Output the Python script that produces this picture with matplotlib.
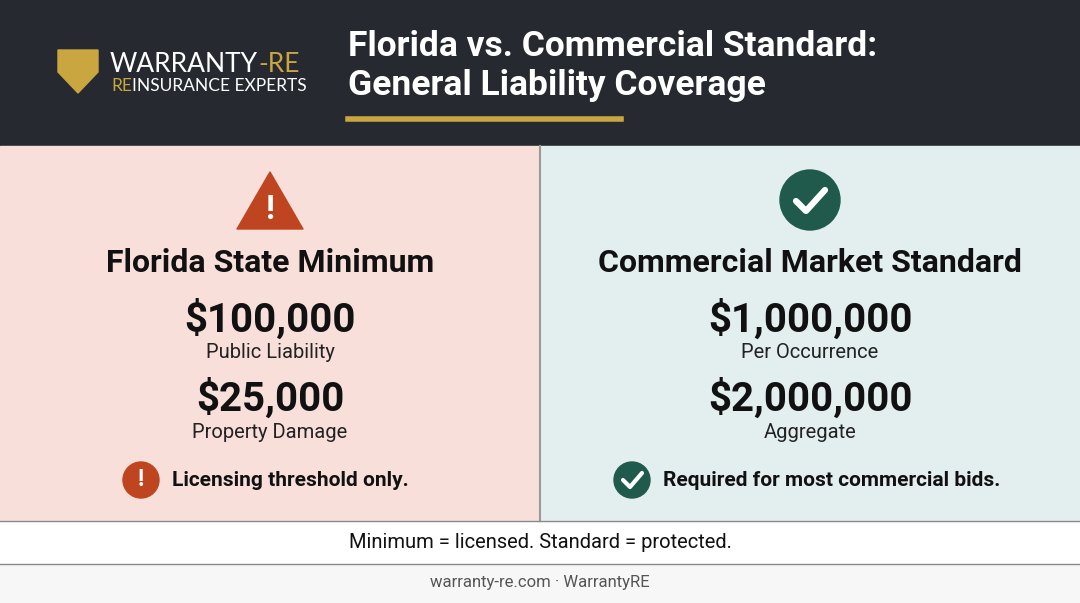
import matplotlib.pyplot as plt
from matplotlib.patches import Rectangle, Polygon, Circle

plt.rcParams['font.family'] = ['Roboto', 'DejaVu Sans']

# content
title_lines = ['Florida vs. Commercial Standard:', 'General Liability Coverage']
panel_titles = ['Florida State Minimum', 'Commercial Market Standard']
amounts = [['$100,000', '$25,000'], ['$1,000,000', '$2,000,000']]
amount_labels = [['Public Liability', 'Property Damage'], ['Per Occurrence', 'Aggregate']]
notes = ['Licensing threshold only.', 'Required for most commercial bids.']
tagline = 'Minimum = licensed. Standard = protected.'
footer = 'warranty-re.com \u00b7 WarrantyRE'

W, H = 1080, 603
fig = plt.figure(figsize=(W / 100, H / 100), dpi=100)
ax = fig.add_axes([0, 0, 1, 1])
ax.set_xlim(0, W)
ax.set_ylim(H, 0)
ax.axis('off')

dark = '#262a30'
gold = '#c9a640'
red = '#bf4520'
teal = '#1f5a4c'

# backgrounds
ax.add_patch(Rectangle((0, 0), W, 146, color=dark))
ax.add_patch(Rectangle((0, 146), 540, 375, color='#f8dfda'))
ax.add_patch(Rectangle((540, 146), 540, 375, color='#e3eeee'))
ax.plot([540, 540], [146, 521], color='#9a9a9a', lw=1.5)
ax.add_patch(Rectangle((0, 521), W, 44, color='white'))
ax.plot([0, W], [521, 521], color='#888888', lw=1)
ax.plot([0, W], [564, 564], color='#888888', lw=1)
ax.add_patch(Rectangle((0, 565), W, 38, color='#f7f7f7'))

# logo
ax.add_patch(Polygon([(58, 50), (98, 50), (98, 72), (78, 93), (58, 72)], color=gold))
t1 = ax.text(110, 64, 'WARRANTY', color='white', fontsize=19, va='center', ha='left', family='Lato')
ax.annotate('-RE', xy=(1, 0.5), xycoords=t1, color=gold, fontsize=19, va='center', ha='left', family='Lato')
t2 = ax.text(111, 86, 'RE', color=gold, fontsize=12.5, va='center', ha='left', family='Lato')
ax.annotate('INSURANCE EXPERTS', xy=(1, 0.5), xycoords=t2, color='white', fontsize=12.5,
            va='center', ha='left', family='Lato')

# title
ax.text(348, 47, title_lines[0], color='white', fontsize=25.5, weight='bold', va='center')
ax.text(348, 86, title_lines[1], color='white', fontsize=25.5, weight='bold', va='center')
ax.plot([348, 621], [119, 119], color=gold, lw=4)

# icons
ax.add_patch(Polygon([(270, 172), (303, 229), (237, 229)], closed=True, color=red, joinstyle='round'))
ax.text(270, 210, '!', color='white', fontsize=24, weight='bold', ha='center', va='center')
ax.add_patch(Circle((810, 200), 30, color=teal))
ax.plot([796, 806, 825], [201, 211, 190], color='white', lw=4.5, solid_capstyle='round')

for i, cx in enumerate([270, 810]):
    ax.text(cx, 263, panel_titles[i], fontsize=23, weight='bold', ha='center', va='center', color='#111111')
    for j, y in enumerate([319, 398]):
        ax.text(cx, y, amounts[i][j], fontsize=29, weight='bold', ha='center', va='center', color='#111111')
        ax.text(cx, y + 34, amount_labels[i][j], fontsize=14.5, ha='center', va='center', color='#222222')

# notes
ax.add_patch(Circle((141, 480), 18, color=red))
ax.text(141, 480, '!', color='white', fontsize=17, weight='bold', ha='center', va='center')
ax.text(172, 480, notes[0], fontsize=15, weight='bold', ha='left', va='center', color='#111111')
ax.add_patch(Circle((632, 480), 18, color=teal))
ax.plot([623, 630, 642], [480, 487, 473], color='white', lw=3, solid_capstyle='round')
ax.text(663, 480, notes[1], fontsize=15, weight='bold', ha='left', va='center', color='#111111')

ax.text(540, 543, tagline, fontsize=14.5, ha='center', va='center', color='#111111')
ax.text(540, 583, footer, fontsize=12, ha='center', va='center', color='#555555')

fig.savefig('out.png', dpi=100)
